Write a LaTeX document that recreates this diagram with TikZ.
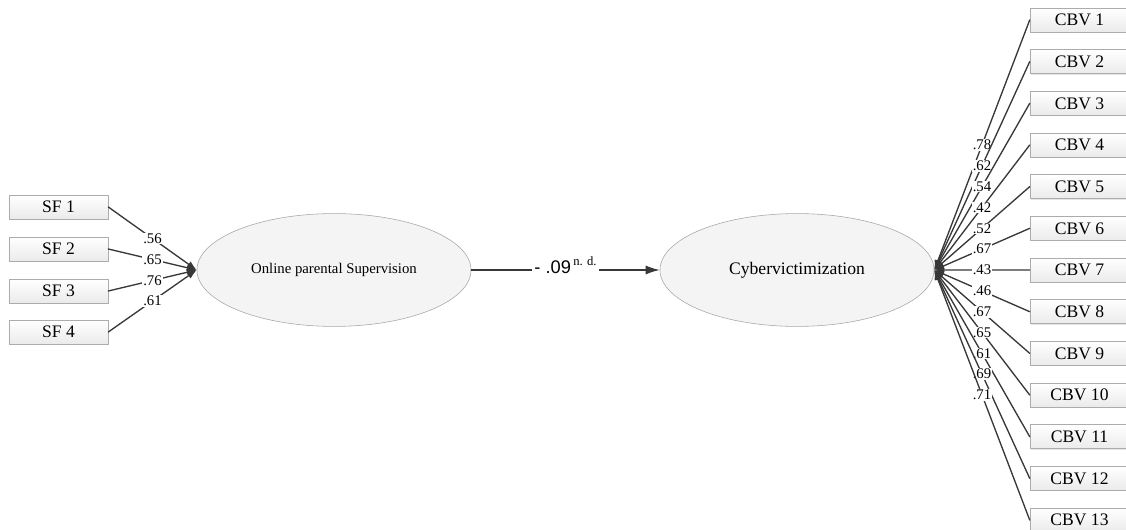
\documentclass[tikz,border=0pt]{standalone}
\usepackage{fontspec}
\setmainfont{Liberation Serif}
\newfontfamily\arialfont{Liberation Sans}
\usetikzlibrary{arrows.meta,shapes.geometric,shadows}

\begin{document}
\begin{tikzpicture}[x=0.025cm,y=-0.025cm,>={Latex[length=7pt,width=5pt]},line join=round,line cap=round,
		item/.style={draw=gray!65,top color=white,bottom color=gray!16,minimum width=2.475cm,minimum height=0.6cm,inner sep=0pt,
			drop shadow={shadow xshift=0.8pt,shadow yshift=-0.8pt,opacity=0.2},font=\fontsize{12.5}{14}\selectfont},
		latent/.style={ellipse,draw=gray!70,fill=gray!9,minimum width=6.85cm,minimum height=2.82cm,inner sep=0pt},
		load/.style={->,draw=black!78,line width=0.95pt},
		coef/.style={fill=white,inner sep=0.6pt,font=\fontsize{10.5}{12}\selectfont}]
	\useasboundingbox (0,0) rectangle (1126,530);
	% indicators
	\foreach \n/\y in {1/207,2/249,3/291,4/332}
		\node[item] (sf\n) at (58.5,\y) {SF \n};
	\foreach \n in {1,...,13}
		\node[item] (cbv\n) at (1079.5,{20+41.67*(\n-1)}) {CBV \n};
	% latent variables
	\node[latent,font=\fontsize{10.5}{12}\selectfont] (ops) at (334,270) {Online parental Supervision};
	\node[latent,font=\fontsize{12.5}{14}\selectfont] (cv) at (797,270) {Cybervictimization};
	% loadings
	\foreach \n/\v in {1/.56,2/.65,3/.76,4/.61}
		\draw[load] (sf\n.east) -- node[coef]{\v} (ops.west);
	\foreach \n/\v in {1/.78,2/.62,3/.54,4/.42,5/.52,6/.67,7/.43,8/.46,9/.67,10/.65,11/.61,12/.69,13/.71}
		\draw[load] (cbv\n.west) -- node[coef]{\v} (cv.east);
	% path
	\draw[load,>={Latex[length=10pt,width=6.5pt]}] (ops.east) -- node[fill=white,inner sep=2pt,yshift=0.12cm]
		{{\arialfont\fontsize{13}{15}\selectfont - .09}\,\raisebox{5pt}{\fontsize{9}{10}\selectfont n. d.}} (cv.west);
\end{tikzpicture}
\end{document}
